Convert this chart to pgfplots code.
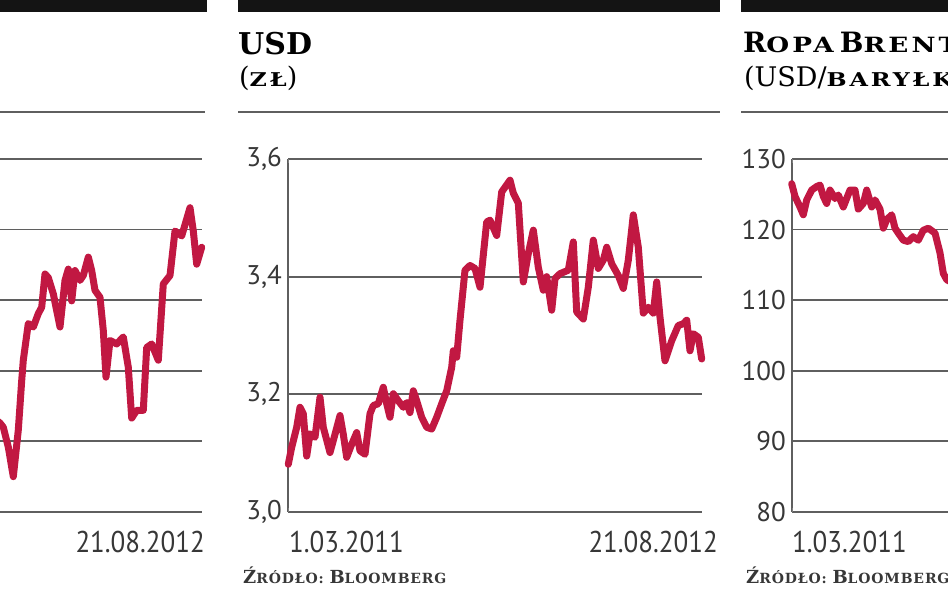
\documentclass[border=0pt]{standalone}
\usepackage{pgfplots}
\pgfplotsset{compat=1.18}
\usepackage{fontspec}
\setmainfont{PT Sans}
\newfontfamily\tickfont{PT Sans}
\newfontfamily\datefont[FakeStretch=0.9]{PT Sans}
\newfontfamily\serif{DejaVu Serif}
\newfontfamily\serifsc[LetterSpace=15,FakeStretch=1.25]{DejaVu Serif}
\newfontfamily\serifsrc[LetterSpace=6]{DejaVu Serif}
\definecolor{linered}{RGB}{193,24,66}
\definecolor{gridgray}{RGB}{95,95,95}
\definecolor{txtgray}{RGB}{55,55,55}
\definecolor{barblack}{RGB}{20,20,20}
\pgfplotsset{panel/.style={
  scale only axis, width=414pt, height=353pt,
  anchor=south west,
  axis line style={draw=none},
  xtick=\empty,
  ymajorgrids, major grid style={gridgray, line width=1.8pt},
  ytick style={draw=none}, tick align=inside,
  yticklabel style={font=\fontsize{27}{27}\selectfont\tickfont, text=txtgray, inner sep=0pt, xshift=-6pt},
  /pgf/number format/assume math mode=true,
  enlargelimits=false,
  clip=false,
}}
\tikzset{redline/.style={linered, line width=7pt, line join=round, line cap=round}}
\newcommand\bigtxt[1]{{\fontsize{30}{30}\selectfont #1}}
\newcommand\capA[1]{{\fontsize{28}{28}\selectfont #1}}
\newcommand\scA[1]{{\serifsc\bfseries\fontsize{21}{21}\selectfont #1}}
\newcommand\scB[1]{{\serifsc\bfseries\fontsize{19}{19}\selectfont #1}}
\newcommand\paren[1]{{\serif\fontsize{27}{27}\selectfont #1}}
\newcommand\src{\serifsrc\bfseries{\fontsize{18}{18}\selectfont Ź}{\fontsize{14}{14}\selectfont RÓDŁO: }{\fontsize{18}{18}\selectfont B}{\fontsize{14}{14}\selectfont LOOMBERG}}
\begin{document}
\begin{tikzpicture}[x=1pt,y=1pt]
\useasboundingbox (0pt,0pt) rectangle (948pt,593pt);
\clip (0pt,0pt) rectangle (948pt,593pt);
% black bars
\fill[barblack] (-10,580.5) rectangle (207,600);
\fill[barblack] (238,580.5) rectangle (720,600);
\fill[barblack] (741,580.5) rectangle (960,600);
% rules
\draw[gridgray, line width=2pt] (-10,480.5) -- (205,480.5);
\draw[gridgray, line width=2pt] (238,480.5) -- (720,480.5);
\draw[gridgray, line width=2pt] (741,480.5) -- (960,480.5);
% titles
\node[anchor=base west, inner sep=0pt] at (238,538) {\serif\bfseries\bigtxt{USD}};
\node[anchor=base west, inner sep=0pt] at (239,506) {\paren{(}\scB{ZŁ}\paren{)}};
\node[anchor=base west, inner sep=0pt] at (743,540) {\serif\bfseries\capA{R}\scA{OPA}\hspace{6pt}\capA{B}\scA{RENT}};
\node[anchor=base west, inner sep=0pt] at (744,506) {\paren{(USD/}\scB{BARYŁKĘ}\paren{)}};

% left panel (partly cut)
\begin{axis}[panel, at={(-212pt,81pt)}, xmin=-212, xmax=202, ymin=2000, ymax=2500, ytick={2000,2100,...,2500}, yticklabels={},
  extra x ticks={-212}, extra x tick labels={}, extra x tick style={xmajorgrids=true}]
\addplot[redline] coordinates {
(-8,2135)(0,2126)(3.3,2120)(8.3,2092)(13.3,2050)(18.3,2116)(21.7,2186)(23.3,2215)(28.3,2267)(33.3,2262)(38.3,2281)(41.7,2290)(45,2337)(48.3,2332)(53.3,2309)(60,2262)(65,2328)(68.3,2344)(71.7,2299)(75,2342)(80,2328)(83.3,2335)(88.3,2361)(91.7,2342)(95,2314)(100,2304)(103.3,2257)(106,2191)(110,2243)(116.7,2238)(123.3,2248)(128.3,2205)(131.7,2133)(136.7,2144)(143.3,2144)(146.7,2233)(151.7,2238)(158.3,2215)(163.3,2323)(170,2335)(175,2398)(181.7,2391)(190,2431)(193.3,2398)(196.7,2351)(201.7,2375)
};
\end{axis}

% middle panel USD
\begin{axis}[panel, at={(288pt,81pt)}, xmin=288, xmax=702, ymin=3, ymax=3.6, ytick={3,3.2,3.4,3.6},
  extra x ticks={288}, extra x tick labels={}, extra x tick style={xmajorgrids=true},
  yticklabel style={/pgf/number format/.cd, use comma, fixed, fixed zerofill, precision=1}]
\addplot[redline] coordinates {
(288.3,3.081)(291.7,3.110)(296.7,3.144)(300,3.178)(303.3,3.167)(306.7,3.095)(310,3.133)(315,3.127)(320,3.195)(323.3,3.144)(330,3.101)(335,3.132)(340,3.164)(343.3,3.132)(346.7,3.093)(351.7,3.115)(356.7,3.135)(360,3.104)(365,3.098)(370,3.167)(373.3,3.181)(378.3,3.184)(383.3,3.212)(386.7,3.184)(390,3.161)(393.3,3.201)(398.3,3.189)(403.3,3.178)(406.7,3.186)(410,3.169)(413.3,3.206)(416.7,3.189)(421.7,3.161)(426.7,3.144)(431.7,3.141)(436.7,3.161)(441.7,3.184)(446.7,3.206)(451.7,3.246)(453.3,3.274)(456.7,3.263)(460,3.326)(465,3.411)(470,3.419)(475,3.414)(480,3.382)(486.7,3.493)(490,3.496)(496.7,3.470)(501.7,3.544)(510,3.564)(513.3,3.542)(518.3,3.525)(523.3,3.391)(528.3,3.439)(533.3,3.479)(538.3,3.416)(543.3,3.377)(546.7,3.400)(551.7,3.343)(555,3.397)(560,3.405)(568.3,3.411)(573.3,3.459)(576.7,3.340)(583.3,3.328)(588.3,3.382)(593.3,3.462)(598.3,3.414)(603.3,3.428)(606.7,3.450)(611.7,3.422)(618.3,3.402)(623.3,3.380)(628.3,3.428)(633.3,3.505)(638.3,3.450)(643.3,3.338)(648.3,3.348)(653.3,3.338)(656.7,3.391)(660,3.331)(665,3.257)(671.7,3.291)(678.3,3.317)(683.3,3.320)(686.7,3.326)(690,3.274)(693.3,3.303)(698.3,3.297)(701.7,3.260)
};
\end{axis}

% right panel Brent
\begin{axis}[panel, at={(792pt,81pt)}, xmin=792, xmax=1206, ymin=80, ymax=130, ytick={80,90,...,130},
  extra x ticks={792}, extra x tick labels={}, extra x tick style={xmajorgrids=true}]
\addplot[redline] coordinates {
(791.7,126.5)(795,124.7)(800,123.2)(803.3,122.1)(806.7,124.2)(811.7,125.6)(816.7,126.1)(820,126.3)(823.3,124.7)(826.7,123.7)(830,125.6)(835,124.4)(838.3,124.9)(843.3,123.2)(850,125.6)(855,125.6)(858.3,122.9)(863.3,123.7)(866.7,125.6)(871.7,123.2)(875,124.2)(880,122.9)(883.3,120.2)(886.7,121.4)(891.7,122.1)(895,120.2)(898.3,119.5)(903.3,118.5)(908.3,118.3)(913.3,119.0)(918.3,118.5)(923.3,119.9)(928.3,120.2)(935,119.5)(940,116.7)(943.3,113.8)(946.7,112.9)(955,112.3)
};
\end{axis}

% date labels
\begin{scope}[every node/.style={inner sep=0pt, text=txtgray, font=\datefont\fontsize{30}{30}\selectfont}]
\node[anchor=base east] at (205,40) {21.08.2012};
\node[anchor=base west] at (289,40) {1.03.2011};
\node[anchor=base east] at (718,40) {21.08.2012};
\node[anchor=base west] at (792,40) {1.03.2011};
\end{scope}
% source
\node[anchor=base west, inner sep=0pt, text=txtgray] at (243,9) {\src};
\node[anchor=base west, inner sep=0pt, text=txtgray] at (746,9) {\src};
\end{tikzpicture}
\end{document}
